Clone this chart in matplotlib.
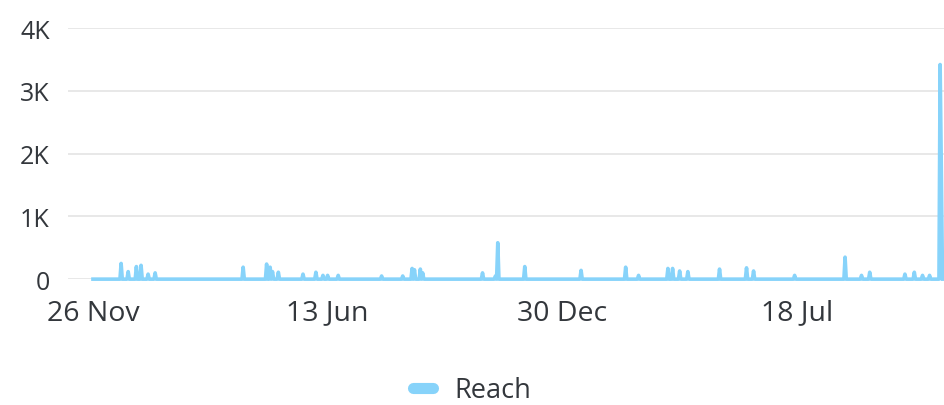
"""
Reach par jour: courbe quotidienne, quelques pics, gros pic en fin de période.
"""

import matplotlib.pyplot as plt
import matplotlib.dates as mdates
import pandas as pd
from matplotlib.lines import Line2D
from matplotlib.ticker import FuncFormatter

# Période couverte (1 point par jour)
START = "2019-11-26"
END = "2021-11-19"

# Jours non nuls (les autres jours sont à 0)
spike_dates = [
    "2019-12-20", "2019-12-26", "2020-01-02", "2020-01-06", "2020-01-12", "2020-01-18",
    "2020-04-02", "2020-04-22", "2020-04-25", "2020-04-27", "2020-05-02", "2020-05-23",
    "2020-06-03", "2020-06-09", "2020-06-13", "2020-06-22", "2020-07-29", "2020-08-16",
    "2020-08-24", "2020-08-26", "2020-08-31", "2020-09-02", "2020-10-23", "2020-11-03",
    "2020-11-05", "2020-11-28", "2021-01-15", "2021-02-22", "2021-03-05", "2021-03-30",
    "2021-04-03", "2021-04-09", "2021-04-16", "2021-05-13", "2021-06-05", "2021-06-11",
    "2021-07-16", "2021-08-28", "2021-09-11", "2021-09-18", "2021-10-18", "2021-10-26",
    "2021-11-02", "2021-11-08", "2021-11-17", "2021-11-18",
]
spike_values = [
    250, 120, 200, 220, 80, 100,
    190, 240, 190, 120, 110, 80,
    110, 60, 60, 60, 50, 50,
    170, 150, 160, 100, 100, 50,
    580, 200, 140, 190, 60, 170,
    170, 130, 120, 160, 180, 130,
    60, 350, 60, 110, 80, 110,
    60, 60, 3420, 1800,
]

y_ticks = [0, 1000, 2000, 3000, 4000]
x_ticks = ["2019-11-26", "2020-06-13", "2020-12-30", "2021-07-18"]

LINE_COLOR = "#87d3fa"
TEXT_COLOR = "#33373c"
GRID_COLOR = "#e2e2e2"


def k_format(val, _pos):
    """0, 1K, 2K..."""
    return "0" if val == 0 else f"{int(val / 1000)}K"


def main() -> None:
    plt.rcParams["font.family"] = ["Open Sans", "DejaVu Sans"]

    days = pd.date_range(START, END, freq="D")
    reach = pd.Series(0.0, index=days)
    reach.loc[pd.to_datetime(spike_dates)] = spike_values

    fig = plt.figure(figsize=(9.44, 4.06), dpi=100)
    ax = fig.add_axes([0.072, 0.310, 0.928, 0.6182])

    ax.plot(reach.index, reach.values, color=LINE_COLOR, lw=2.6,
            clip_on=False, zorder=3)

    # axe X : on cale pour que 26 Nov tombe à ~93 px
    t0 = pd.Timestamp(START)
    ax.set_xlim(t0 - pd.Timedelta(days=21.3), t0 + pd.Timedelta(days=725.3))
    ax.set_xticks(pd.to_datetime(x_ticks))
    ax.xaxis.set_major_formatter(mdates.DateFormatter("%-d %b"))

    ax.set_ylim(0, 4000)
    ax.set_yticks(y_ticks)
    ax.yaxis.set_major_formatter(FuncFormatter(k_format))

    ax.grid(axis="y", color=GRID_COLOR, lw=1.1)
    ax.set_axisbelow(True)
    for side in ax.spines.values():
        side.set_visible(False)
    ax.tick_params(axis="y", length=0, pad=13, labelsize=18, labelcolor=TEXT_COLOR)
    ax.tick_params(axis="x", length=0, pad=14, labelsize=20.5, labelcolor=TEXT_COLOR)

    handle = Line2D([], [], color=LINE_COLOR, lw=8, solid_capstyle="round")
    fig.legend(handles=[handle], labels=["Reach"], loc="center",
               bbox_to_anchor=(0.5, 0.036), frameon=False, fontsize=19.5,
               labelcolor=TEXT_COLOR, handlelength=0.75, handletextpad=0.8)

    fig.savefig("out.png", dpi=100)


if __name__ == "__main__":
    main()
